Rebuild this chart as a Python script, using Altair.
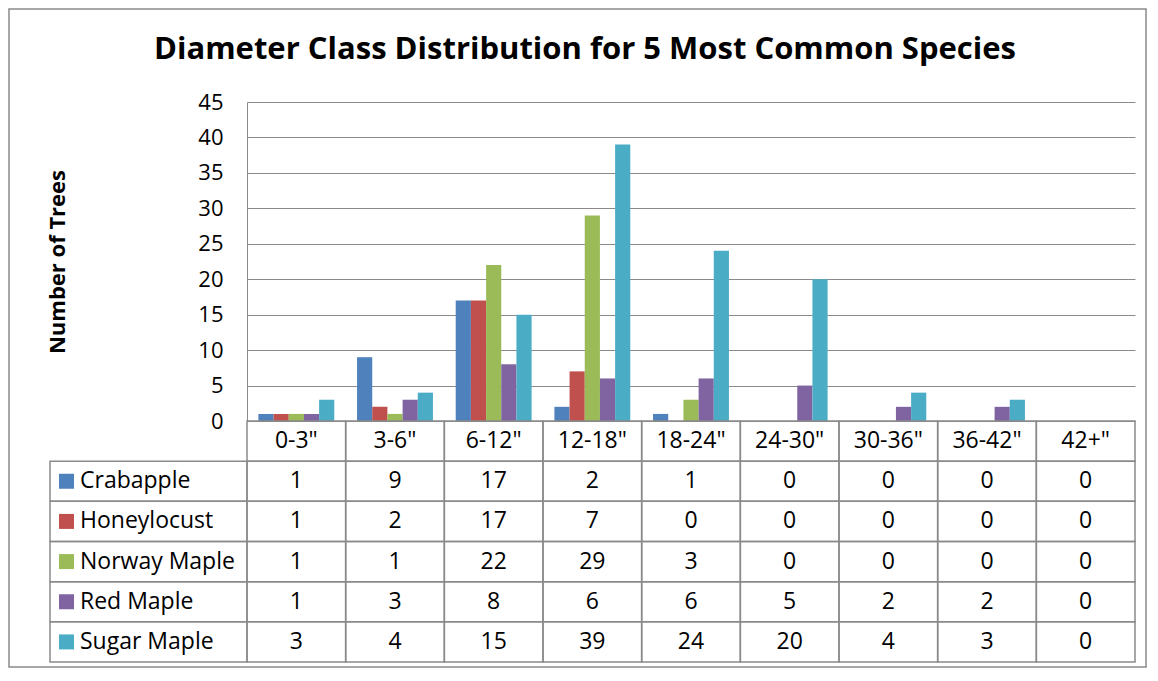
import altair as alt
import pandas as pd

categories = ['0-3"', '3-6"', '6-12"', '12-18"', '18-24"', '24-30"', '30-36"', '36-42"', '42+"']
species = ["Crabapple", "Honeylocust", "Norway Maple", "Red Maple", "Sugar Maple"]
crabapple = [1, 9, 17, 2, 1, 0, 0, 0, 0]
honeylocust = [1, 2, 17, 7, 0, 0, 0, 0, 0]
norway_maple = [1, 1, 22, 29, 3, 0, 0, 0, 0]
red_maple = [1, 3, 8, 6, 6, 5, 2, 2, 0]
sugar_maple = [3, 4, 15, 39, 24, 20, 4, 3, 0]
colors = ["#4F81BD", "#C0504D", "#9BBB59", "#8064A2", "#4BACC6"]
title_text = "Diameter Class Distribution for 5 Most Common Species"
y_ticks = [0, 5, 10, 15, 20, 25, 30, 35, 40, 45]

series_values = [crabapple, honeylocust, norway_maple, red_maple, sugar_maple]
rows = ["header"] + species

records = []
for sp, vals in zip(species, series_values):
    for cat, v in zip(categories, vals):
        records.append({"category": cat, "species": sp, "count": v, "row": sp})
df = pd.DataFrame(records)
df_hdr = pd.DataFrame({"category": categories, "row": ["header"] * len(categories)})
df_cells = pd.concat([df[["category", "row"]], df_hdr], ignore_index=True)
df_labels = pd.DataFrame({"species": species, "row": species})

FONT = "Open Sans"
GRID = "#8a8a8a"
PLOT_W, PLOT_H = 888, 319
TABLE_RANGE = [319, 560]

xscale = alt.Scale(domain=categories, paddingInner=0, paddingOuter=0)
rowscale = alt.Scale(domain=rows, range=TABLE_RANGE, paddingInner=0, paddingOuter=0)
colorscale = alt.Scale(domain=species, range=colors)

border = alt.Chart(pd.DataFrame({"a": [0]})).mark_rect(
    fillOpacity=0, stroke=GRID, strokeWidth=1.5
).encode(x=alt.value(-238), x2=alt.value(899), y=alt.value(-93), y2=alt.value(565))

title = alt.Chart(pd.DataFrame({"t": [title_text]})).mark_text(
    font=FONT, fontSize=31, fontWeight="bold", color="black", align="center", baseline="middle"
).encode(text="t:N", x=alt.value(338), y=alt.value(-52))

bars = alt.Chart(df[df["count"] > 0]).mark_bar().encode(
    x=alt.X("category:N", sort=categories, scale=xscale, axis=None),
    xOffset=alt.XOffset("species:N", sort=species,
                        scale=alt.Scale(domain=species, paddingInner=0, paddingOuter=0.75)),
    y=alt.Y("count:Q", scale=alt.Scale(domain=[0, 45], nice=False),
            axis=alt.Axis(values=y_ticks, grid=True, gridColor=GRID, gridWidth=1,
                          domain=True, domainColor=GRID, domainWidth=1, ticks=False,
                          labelFont=FONT, labelFontSize=22, labelColor="black", labelPadding=24,
                          title="Number of Trees", titleFont=FONT, titleFontSize=22,
                          titleFontWeight="bold", titleColor="black", titleAngle=-90,
                          titleX=-190, titleY=159.5, titleAlign="center", titleBaseline="middle")),
    color=alt.Color("species:N", scale=colorscale, legend=None),
)

cells = alt.Chart(df_cells).mark_rect(fillOpacity=0, stroke=GRID, strokeWidth=1.5).encode(
    x=alt.X("category:N", sort=categories, scale=xscale, axis=None),
    y=alt.Y("row:N", sort=rows, scale=rowscale, axis=None),
)

label_cells = alt.Chart(df_labels).mark_rect(fillOpacity=0, stroke=GRID, strokeWidth=1.5).encode(
    x=alt.value(-197), x2=alt.value(0),
    y=alt.Y("row:N", sort=rows, scale=rowscale, axis=None),
)

squares = alt.Chart(df_labels).mark_square(size=225, opacity=1).encode(
    x=alt.value(-180.5),
    y=alt.Y("row:N", sort=rows, scale=rowscale, axis=None),
    color=alt.Color("species:N", scale=colorscale, legend=None),
)

label_text = alt.Chart(df_labels).mark_text(
    font=FONT, fontSize=23, color="black", align="left", baseline="middle"
).encode(
    x=alt.value(-167),
    y=alt.Y("row:N", sort=rows, scale=rowscale, axis=None),
    text="species:N",
)

value_text = alt.Chart(df).mark_text(
    font=FONT, fontSize=23, color="black", align="center", baseline="middle"
).encode(
    x=alt.X("category:N", sort=categories, scale=xscale, axis=None),
    y=alt.Y("row:N", sort=rows, scale=rowscale, axis=None),
    text="count:Q",
)

header_text = alt.Chart(df_hdr).mark_text(
    font=FONT, fontSize=23, color="black", align="center", baseline="middle"
).encode(
    x=alt.X("category:N", sort=categories, scale=xscale, axis=None),
    y=alt.Y("row:N", sort=rows, scale=rowscale, axis=None),
    text="category:N",
)

chart = alt.layer(
    border, title, bars, cells, label_cells, squares, label_text, value_text, header_text
).resolve_scale(y="independent").properties(
    width=PLOT_W, height=PLOT_H,
    autosize=alt.AutoSizeParams(type="none"),
    padding={"left": 239, "top": 94, "right": 13, "bottom": 247},
    background="white",
).configure_view(stroke=None)

chart.save("out.html", embed_options={"renderer": "svg", "actions": False})
